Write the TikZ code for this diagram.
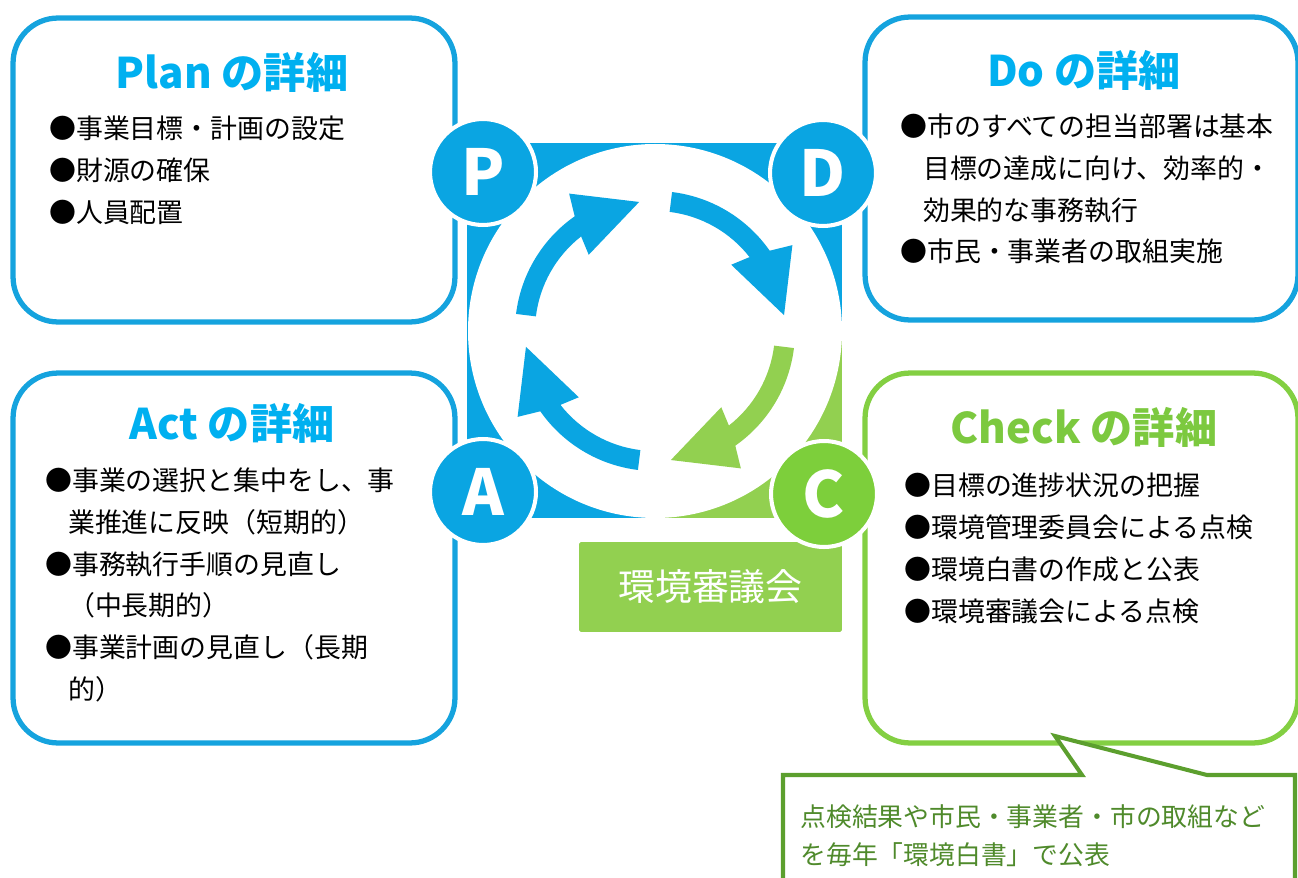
\documentclass[tikz,border=0pt]{standalone}
\usepackage{fontspec}
\setmainfont{Noto Sans CJK JP}
\usepackage{tikz}
\usetikzlibrary{positioning}
\definecolor{boxblue}{HTML}{15A3DE}
\definecolor{titleblue}{HTML}{00B0F0}
\definecolor{pdcablue}{HTML}{0AA5E2}
\definecolor{pdcagreen}{HTML}{92D050}
\definecolor{cgreen}{HTML}{7DCF3B}
\definecolor{checkgreen}{HTML}{83CF42}
\definecolor{checktitle}{HTML}{7CC93F}
\definecolor{noteline}{HTML}{5C9F2E}
\definecolor{notetext}{HTML}{4F8A2B}
\tikzstyle{detail}  = [rectangle, draw=boxblue, fill=white, line width=3pt,
                       rounded corners=0.9cm]
\tikzstyle{heading} = [font=\fontsize{24}{28}\selectfont\bfseries, text=titleblue,
                       inner sep=0pt]
\tikzstyle{items}   = [font=\fontsize{15.3}{23.8}\selectfont, align=left,
                       anchor=west, inner sep=0pt]
\tikzstyle{pdca}    = [circle, fill=pdcablue, draw=white, line width=2.3pt,
                       minimum size=2.12cm, inner sep=0pt, text=white,
                       font=\fontsize{36}{40}\selectfont\bfseries]
\tikzstyle{council} = [rectangle, fill=pdcagreen, rounded corners=1pt,
                       minimum width=5.26cm, minimum height=1.8cm, text=white,
                       font=\fontsize{21}{24}\selectfont]
\newcommand{\pdcaarrow}[3]{%
  \fill[#1] (#2:140) arc[start angle=#2, end angle=#3+28, radius=140]
    -- (#3+25:162) -- (#3:130) -- (#3+34:101) -- (#3+31:120)
    arc[start angle=#3+31, end angle=#2, radius=120] -- cycle;}

\begin{document}
\begin{tikzpicture}[x=0.02cm, y=0.02cm]
  \useasboundingbox (0,0) rectangle (1298,-878);

  % detail boxes
  \node[detail, minimum width=8.84cm, minimum height=6.08cm] (plan) at (234,-170) {};
  \node[detail, minimum width=8.66cm, minimum height=6.06cm] (do) at (1081.5,-168.5) {};
  \node[detail, minimum width=8.84cm, minimum height=7.4cm] (act) at (234,-558) {};
  \node[detail, draw=checkgreen, minimum width=8.66cm, minimum height=7.4cm]
    (check) at (1081.5,-558) {};

  \node[heading] (plantitle) at (232,-72) {Plan の詳細};
  \node[heading] (dotitle) at (1084,-70) {Do の詳細};
  \node[heading] (acttitle) at (232,-423) {Act の詳細};
  \node[heading, text=checktitle] (checktitle) at (1084,-427) {Check の詳細};

  \node[items] (planitems) at (49,-170)
    {●事業目標・計画の設定\\●財源の確保\\●人員配置};
  \node[items] (doitems) at (900,-189)
    {●市のすべての担当部署は基本\\\hspace*{0.85em}目標の達成に向け、効率的・\\
     \hspace*{0.85em}効果的な事務執行\\●市民・事業者の取組実施};
  \node[items] (actitems) at (45,-585)
    {●事業の選択と集中をし、事\\\hspace*{0.85em}業推進に反映（短期的）\\
     ●事務執行手順の見直し\\\hspace*{0.85em}（中長期的）\\
     ●事業計画の見直し（長期\\\hspace*{0.85em}的）};
  \node[items] (checkitems) at (904,-548.5)
    {●目標の進捗状況の把握\\●環境管理委員会による点検\\●環境白書の作成と公表\\
     ●環境審議会による点検};

  % cycle in the middle
  \fill[pdcablue] (467,-143) rectangle (842,-518);
  \fill[pdcagreen] (655,-331) rectangle (842,-518);
  \fill[white] (655,-331) circle[radius=187];
  \begin{scope}[shift={(655,-331)}]
    \pdcaarrow{pdcablue}{173}{97}
    \pdcaarrow{pdcablue}{83}{7}
    \pdcaarrow{pdcagreen}{-7}{-83}
    \pdcaarrow{pdcablue}{-97}{-173}
  \end{scope}

  \node[council] (council) at (710.5,-587) {環境審議会};

  \node[pdca] (p) at (483,-172) {P};
  \node[pdca] (d) at (823,-173) {D};
  \node[pdca] (a) at (483,-492) {A};
  \node[pdca, fill=cgreen] (c) at (824,-494) {C};

  % note under Check
  \draw[noteline, fill=white, line width=2.3pt, line join=miter]
    (783,-900) -- (783,-775) -- (1082,-775) -- (1055,-736) -- (1207,-775)
    -- (1295,-775) -- (1295,-900);
  \node[items, text=notetext, font=\fontsize{14.7}{21.5}\selectfont]
    (note) at (800,-836) {点検結果や市民・事業者・市の取組など\\を毎年「環境白書」で公表};
\end{tikzpicture}
\end{document}
